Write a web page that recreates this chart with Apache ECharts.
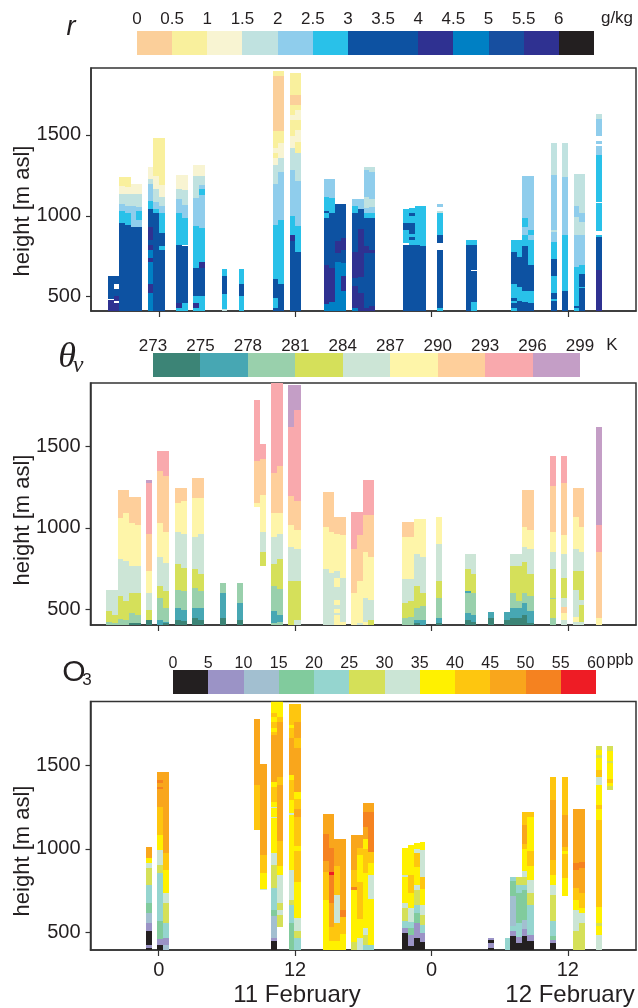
<!DOCTYPE html>
<html><head><meta charset="utf-8">
<style>html,body{margin:0;padding:0;background:#fff}#c{width:638px;height:1008px}</style>
<script src="https://cdn.jsdelivr.net/npm/echarts@6/dist/echarts.min.js"></script>
</head><body><div id="c"></div>
<script>
// each column: [start hour, end hour, class, top height, class, top height, ...] bottom-up (null = no data)
const rColors=['#fbcf9a','#f9f09d','#f8f4d2','#c0e2e0','#8fcdec','#29c1e9','#0d52a2','#2f3191','#0080c4','#174fa0','#2f3191','#231f20'];
const rBreaks=[0,.5,1,1.5,2,2.5,3,4,4.5,5,5.5,6,6.5];
const rTicks=[0,.5,1,1.5,2,2.5,3,3.5,4,4.5,5,5.5,6];
const rColumns=[
[-4.5,-4,7,481,null,487,6,625],
[-4,-3.5,7,460,null,470,7,505,6,550,null,575,6,625],
[-3.5,-3,6,958,5,1032,4,1074,3,1135,2,1187,1,1238],
[-3,-2.5,6,942,5,1016,4,1063,3,1135,2,1180,1,1238],
[-2.5,-2,6,929,4,1063,3,1133,2,1195],
[-2,-1.5,6,929,4,975,5,1030,4,1055,3,1133,2,1195],
[-1,-.5,8,521,7,579,8,713,7,738,8,789,7,820,6,851,7,929,6,1043,5,1090,4,1195,3,1226,2,1300],
[-.5,0,6,1016,5,1041,4,1088,3,1164,2,1243,1,1481],
[0,.5,6,789,5,814,6,892,5,1016,4,1061,3,1119,2,1191,1,1481],
[1.5,2,5,429,7,460,6,820,5,1016,4,1104,3,1166,2,1253],
[2,2.5,5,460,6,810,null,818,5,985,4,1067,3,1160,2,1253],
[3,3.5,5,429,7,460,5,501,6,676,5,934,4,1107,3,1243,2,1315],
[3.5,4,5,501,6,680,7,717,5,922,4,1130,5,1164,4,1190,3,1243,2,1315],
[5.5,6,3,425,5,517,6,629,5,672],
[7,7.5,5,501,6,579,5,672],
[10,10.5,6,429,5,490,6,608,5,940,4,1197,3,1315,2,1356,1,1387,2,1418,1,1525,0,1865,1,1898],
[10.5,11,6,579,5,975,4,1271,3,1360,2,1448,1,1525,0,1865,1,1898],
[11.5,12,6,847,7,880,5,1000,4,1284,3,1422,2,1494,1,1593,2,1624,1,1685,0,1747,1,1885],
[12,12.5,6,775,5,938,4,1212,3,1387,1,1459,2,1531,1,1593,2,1654,1,1685,0,1747,1,1885],
[14.5,15,8,454,7,697,6,985,5,1016,6,1030,5,1119,4,1226],
[15,15.5,8,464,7,676,6,1016,5,1107,4,1226],
[15.5,16,8,717,6,768,7,841,6,1074],
[16,16.5,8,532,7,625,8,709,6,790,7,860,6,1074],
[17,17.5,8,429,7,563,6,614,7,779,6,1016,5,1061,4,1102],
[17.5,18,7,520,6,620,7,920,6,1040,4,1102],
[18,18.5,7,430,6,770,7,815,6,985,5,1016,4,1046,3,1119,4,1284,3,1300],
[18.5,19,7,445,6,770,7,790,6,985,5,1020,4,1055,3,1105,4,1270,3,1300],
[21.5,22,6,820,null,830,5,915,6,955,5,1043],
[22,22.5,6,820,5,850,6,870,5,890,6,955,5,1000,6,1015,5,1047],
[22.5,23,6,820,5,1061],
[23,23.5,6,810,5,1061],
[24.5,25,5,429,6,789,null,830,6,882,5,1016,3,1030,null,1057,4,1074],
[27,27.5,6,822,5,851],
[27.5,28,5,464,6,660,null,666,6,822,5,851],
[31,31.5,5,429,6,460,5,475,6,491,5,577,6,779,5,851],
[31.5,32,6,470,5,562,6,746,5,851],
[32,32.5,6,465,5,532,6,810,5,882,4,933,5,985,4,1243],
[32.5,33,6,460,5,532,6,697,5,851,4,882,5,913,4,1243],
[34.5,35,6,470,5,485,6,521,5,625,6,732,5,837,4,899,3,909,4,1253,3,1448],
[35.5,36,6,535,5,882,4,1238,3,1448],
[36.5,37,5,429,6,445,5,686,4,882,3,995,4,1063,3,1257],
[37,37.5,6,551,5,561,6,641,5,697,4,882,3,964,4,1016,3,1257],
[38.5,39,7,662,6,866,5,882,null,907,5,1078,null,1088,5,1376,4,1434,null,1444,4,1465,null,1494,4,1599,3,1630]
];

const thetaColors=['#3c8476','#47a7b3','#99d0ac','#d5e05a','#cce5d6','#fef5a9','#fecf9b','#f9a9ad','#c49ec6'];
const thetaTicks=[273,275,278,281,284,287,290,293,296,299];
const thetaColumns=[
[-4.6,-4.1,2,424,3,492,4,619],
[-4.1,-3.6,2,415,3,465,4,619],
[-3.6,-3.1,2,439,3,584,4,809,5,1062,6,1232],
[-3.1,-2.6,2,435,3,553,4,797,5,1093,6,1232],
[-2.6,-2.1,0,414,2,475,3,598,4,764,5,1032,6,1187],
[-2.1,-1.6,0,414,2,465,3,598,4,764,5,1019,6,1187],
[-1.15,-.6,0,434,3,496,4,598,5,735,6,960,7,1273,8,1291],
[-.13,.4,1,434,2,567,3,643,4,823,5,1032,6,1349,7,1471],
[.4,.93,0,414,1,424,2,510,3,612,4,786,5,976,6,1320,7,1471],
[1.4,1.95,0,435,1,506,2,619,3,778,4,976,5,1154,6,1246],
[1.95,2.45,0,429,1,496,2,612,3,752,4,962,5,1165,6,1246],
[2.9,3.45,0,449,1,510,2,629,3,750,4,942,5,1185,6,1306],
[3.45,3.95,0,435,1,510,2,615,3,717,4,960,5,1185,6,1306],
[5.4,5.95,0,449,1,598,2,662],
[6.9,7.45,0,435,1,541,2,662],
[8.4,8.9,null,1126,5,1154,6,1410,7,1786],
[8.9,9.45,null,766,3,853,4,977,5,1201,6,1422,7,1514],
[9.9,10.45,2,415,1,492,2,643,3,778,4,942,5,1093,6,1334,7,1890],
[10.45,10.95,2,420,1,465,2,627,3,809,4,960,5,1093,6,1379,7,1890],
[11.4,11.95,3,674,4,880,5,1017,6,1197,7,1620,8,1876],
[11.95,12.5,4,435,3,674,4,868,5,987,6,1167,7,1723,8,1876],
[14.45,14.95,4,748,5,1003,6,1218],
[14.95,15.45,4,721,5,974,6,1218],
[15.45,15.95,5,465,4,480,5,500,4,527,5,557,4,639,5,690,4,735,5,962,6,1064],
[15.95,16.45,5,422,4,690,5,958,6,1064],
[16.95,17.45,5,598,6,870,7,1095],
[17.45,17.95,4,414,5,674,6,956,7,1095],
[17.95,18.45,5,425,4,567,5,854,6,1079,7,1293],
[18.45,18.95,3,435,4,557,5,823,6,1079,7,1293],
[21.45,21.95,2,449,3,537,4,688,5,944,6,1036],
[21.95,22.45,2,451,3,553,4,688,5,944,6,1036],
[22.45,22.95,0,414,1,435,2,506,3,643,4,839,5,1052],
[22.95,23.5,1,435,2,520,3,598,4,823,5,1052],
[24.4,24.95,0,414,1,445,2,572,3,674,4,901,5,1066],
[26.95,27.45,0,435,1,475,2,598,1,610,3,748,4,841],
[27.45,27.95,0,424,1,465,2,602,3,717,4,841],
[28.95,29.5,0,449,1,481],
[30.4,30.95,0,435,1,481],
[30.95,31.45,0,449,1,510,2,598,3,764,4,841],
[31.45,31.95,0,449,1,510,2,553,3,764,4,841],
[31.95,32.45,0,465,1,541,2,598,3,792,4,884,5,1003,6,1232],
[32.45,33,0,414,1,492,2,584,3,717,4,870,5,987,6,1232],
[34.4,34.95,2,449,3,561,2,571,3,748,4,854,5,974,6,1259,7,1441],
[35.4,35.95,4,435,5,475,6,516,4,570,3,690,4,841,5,958,6,1275,7,1441],
[36.45,36.95,4,422,5,450,4,618,3,735,4,870,5,1064,6,1246],
[36.95,37.45,4,422,3,527,4,557,3,735,4,854,5,1003,6,1246],
[38.45,39,5,447,6,854,7,1017,8,1620]
];

const o3Colors=['#231f20','#9b93c6','#a2bfd0','#81cb9d','#95d5cf','#d5e058','#cbe5d5','#fff100','#fec60f','#f9a61c','#f58220','#ee1c25'];
const o3Ticks=[0,5,10,15,20,25,30,35,40,45,50,55,60];
const o3Columns=[
[-1.15,-.6,0,407,1,426,0,512,1,558,2,615,3,675,4,784,5,888,6,918,7,947,9,1009],
[-.13,.4,0,426,1,465,3,568,4,858,5,904,6,993,7,1083,8,1248,9,1355,10,1370,9,1395,10,1410,9,1460],
[.4,.93,2,426,1,470,4,556,5,675,6,739,7,874,8,973,9,1460],
[8.4,8.95,null,1114,8,1381,9,1774],
[8.95,9.5,null,755,6,764,7,854,8,963,9,1506],
[9.9,10.45,0,450,1,470,2,601,3,635,4,768,5,902,6,977,7,1182,6,1188,7,1244,6,1250,7,1280,8,1370,7,1400,9,1680,8,1700,7,1720,8,1760,7,1790,8,1810,7,1882],
[10.45,10.95,null,532,5,603,6,635,5,679,6,844,7,900,8,1050,9,1380,8,1430,9,1760,8,1790,7,1882],
[11.45,11.95,3,556,4,665,5,695,6,874,7,1202,6,1212,7,1290,8,1410,7,1440,9,1660,8,1720,7,1740,8,1864],
[11.95,12.5,4,470,5,512,6,590,7,804,8,985,7,1020,8,1190,9,1240,8,1300,7,1340,9,1600,8,1660,9,1760,8,1864],
[14.45,14.95,7,695,8,860,9,930,10,1090,9,1206],
[14.95,15.45,7,450,8,536,9,680,10,844,11,860,10,1003,9,1206],
[15.45,15.95,7,450,8,556,6,725,8,900,9,1057],
[15.95,16.5,7,490,8,595,10,635,9,1057],
[16.95,17.45,5,446,7,754,10,774,8,874,9,1085],
[17.45,17.95,6,470,7,580,8,800,7,965,8,1005,9,1085],
[17.95,18.45,4,426,5,486,6,526,7,854,8,1000,7,1060,9,1130,10,1220,9,1277],
[18.45,18.95,4,426,7,700,6,844,7,914,8,980,10,1220,9,1277],
[21.45,21.95,0,496,1,526,4,570,5,649,6,675,7,834,6,844,7,1007],
[21.95,22.45,0,420,1,486,3,530,4,566,6,649,7,735,8,844,7,1023],
[22.45,22.95,0,466,1,556,3,615,4,665,5,755,6,784,7,893,8,973,6,1000,7,1033],
[22.95,23.45,0,446,1,496,4,546,5,605,6,665,7,764,8,834,6,993,7,1039],
[28.95,29.5,0,407,1,440,0,456,1,470],
[30.45,30.95,4,470],
[30.95,31.45,0,482,1,510,4,540,2,720,3,810,4,830],
[31.45,31.95,0,440,1,476,4,556,3,735,4,784,5,830],
[31.95,32.45,0,482,1,520,2,576,3,755,4,784,5,830,6,870,7,1000,8,1030,9,1140,8,1220],
[32.45,33,0,450,1,486,4,665,5,735,6,814,7,900,8,990,7,1190,8,1220],
[34.45,35,0,440,1,456,3,480,4,570,5,725,6,784,7,844,8,933,9,1291,8,1430],
[35.45,36,null,720,7,824,8,970,7,990,8,1010,9,1200,8,1430],
[36.45,36.95,5,512,6,635,7,695,8,765,9,876,10,918,9,1236],
[36.95,37.5,5,561,6,615,7,649,8,739,9,888,10,922,9,1236],
[38.45,39,6,486,7,540,5,560,7,655,8,1170,7,1240,8,1265,7,1384,6,1430,8,1470,7,1540,5,1560,7,1590,5,1613],
[39.45,40,null,1351,5,1375,7,1395,8,1420,7,1510,5,1525,7,1585,5,1613]
];
const timeTicks=[0,12,24,36];
const timeLabels=['0','12','0','12'];
const panelRanges=[[411,1914],[404,1888],[397,1880]];
const heightTicks=[500,1000,1500];

const FONT='"Liberation Sans",Arial,sans-serif', INK='#231f20';
function segments(cols,base){
  const out=[];
  cols.forEach(c=>{
    let lo=base;
    for(let i=2;i<c.length;i+=2){
      if(c[i]!==null) out.push([c[0],c[1],lo,c[i+1],c[i]]);
      lo=c[i+1];
    }
  });
  return out;
}
function rectItem(colors){
  return function(params,api){
    const a=api.coord([api.value(0),api.value(2)]), b=api.coord([api.value(1),api.value(3)]);
    const x=Math.round(a[0]), x2=Math.round(b[0]), y=Math.round(b[1]), y2=Math.round(a[1]);
    const cs=params.coordSys;
    const top=Math.max(y,cs.y);
    return {type:'rect',shape:{x:x,y:top,width:x2-x,height:y2-top},style:{fill:colors[api.value(4)]}};
  };
}
const grids=[],xAxes=[],yAxes=[],series=[];
function addPanel(top,height,left,cols,colors,range,showLabels){
  const i=grids.length;
  grids.push({left:left,width:636-left,top:top,height:height,show:true,borderColor:'#333',borderWidth:1.5,backgroundColor:'#fff'});
  xAxes.push({type:'value',gridIndex:i,min:-6,max:42,splitLine:{show:false},
    axisLine:{show:true,onZero:false,lineStyle:{color:'#333',width:1.5}},
    axisTick:{show:true,length:6,inside:false,lineStyle:{color:'#333',width:1.2},customValues:timeTicks},
    axisLabel:{show:showLabels,margin:10,fontSize:20,fontFamily:FONT,color:INK,customValues:timeTicks,
      formatter:v=>timeLabels[timeTicks.indexOf(v)]}});
  yAxes.push({type:'value',gridIndex:i,min:range[0],max:range[1],splitLine:{show:false},
    axisLine:{show:true,onZero:false,lineStyle:{color:'#333',width:1.5}},
    axisTick:{show:true,length:5,lineStyle:{color:'#333',width:1.2},customValues:heightTicks},
    axisLabel:{margin:10,fontSize:20,fontFamily:FONT,color:INK,customValues:heightTicks,formatter:v=>String(v)}});
  series.push({type:'custom',xAxisIndex:i,yAxisIndex:i,clip:true,silent:true,
    data:segments(cols,range[0]),encode:{x:[0,1],y:[2,3]},renderItem:rectItem(colors)});
}
function addBar(left,width,top,height,breaks,colors,ticks,labels,margin,fs){
  const i=grids.length;
  grids.push({left:left,width:width,top:top,height:height});
  xAxes.push({type:'value',gridIndex:i,position:'top',min:breaks[0],max:breaks[breaks.length-1],
    splitLine:{show:false},axisLine:{show:false,onZero:false},axisTick:{show:false},
    axisLabel:{margin:margin,fontSize:fs,fontFamily:FONT,color:INK,customValues:ticks,
      hideOverlap:false,showMinLabel:true,showMaxLabel:true,
      formatter:v=>labels?labels[ticks.indexOf(v)]:String(v)}});
  yAxes.push({type:'value',gridIndex:i,min:0,max:1,show:false});
  const d=colors.map((c,k)=>[breaks[k],breaks[k+1],0,1,k]);
  series.push({type:'custom',xAxisIndex:i,yAxisIndex:i,silent:true,data:d,encode:{x:[0,1],y:[2,3]},renderItem:rectItem(colors)});
}
addPanel(68,243,91,rColumns,rColors,panelRanges[0],false);
addPanel(383,242,90.5,thetaColumns,thetaColors,panelRanges[1],false);
addPanel(701.5,248.5,90.5,o3Columns,o3Colors,panelRanges[2],true);
addBar(137,457,31,24,rBreaks,rColors,rTicks,null,3,17);
addBar(153,427,353,24,thetaTicks.map((_,k)=>k),thetaColors,thetaTicks.map((_,k)=>k),thetaTicks,-2,17);
addBar(173,423,670,24,o3Ticks,o3Colors,o3Ticks,null,-2,16);

function txt(x,y,text,fs,extra){
  return {type:'text',x:x,y:y,rotation:(extra&&extra.rotation)||0,silent:true,
    style:Object.assign({text:text,fontSize:fs,fontFamily:FONT,fill:INK,textAlign:'center',textVerticalAlign:'middle'},(extra&&extra.style)||{})};
}
const rot={rotation:Math.PI/2};
const graphicEls=[
  txt(23,211,'height [m asl]',22,rot),
  txt(23,520,'height [m asl]',22,rot),
  txt(23,851,'height [m asl]',22,rot),
  txt(617,18,'g/kg',17),
  txt(612,345,'K',17),
  txt(620,661,'ppb',16),
  txt(71,27,'r',27,{style:{fontStyle:'italic'}}),
  txt(67,358,'θ',36,{style:{fontStyle:'italic',fontFamily:'"Liberation Serif",serif'}}),
  txt(78,366,'v',24,{style:{fontStyle:'italic',fontFamily:'"Liberation Serif",serif'}}),
  txt(74,673,'O',30),
  txt(87,680,'3',17),
  txt(297,995,'11 February',24),
  txt(570,995,'12 February',24)
];
const chart=echarts.init(document.getElementById('c'),null,{renderer:'canvas'});
chart.setOption({animation:false,backgroundColor:'#fff',grid:grids,xAxis:xAxes,yAxis:yAxes,series:series,graphic:{elements:graphicEls}});
</script></body></html>
